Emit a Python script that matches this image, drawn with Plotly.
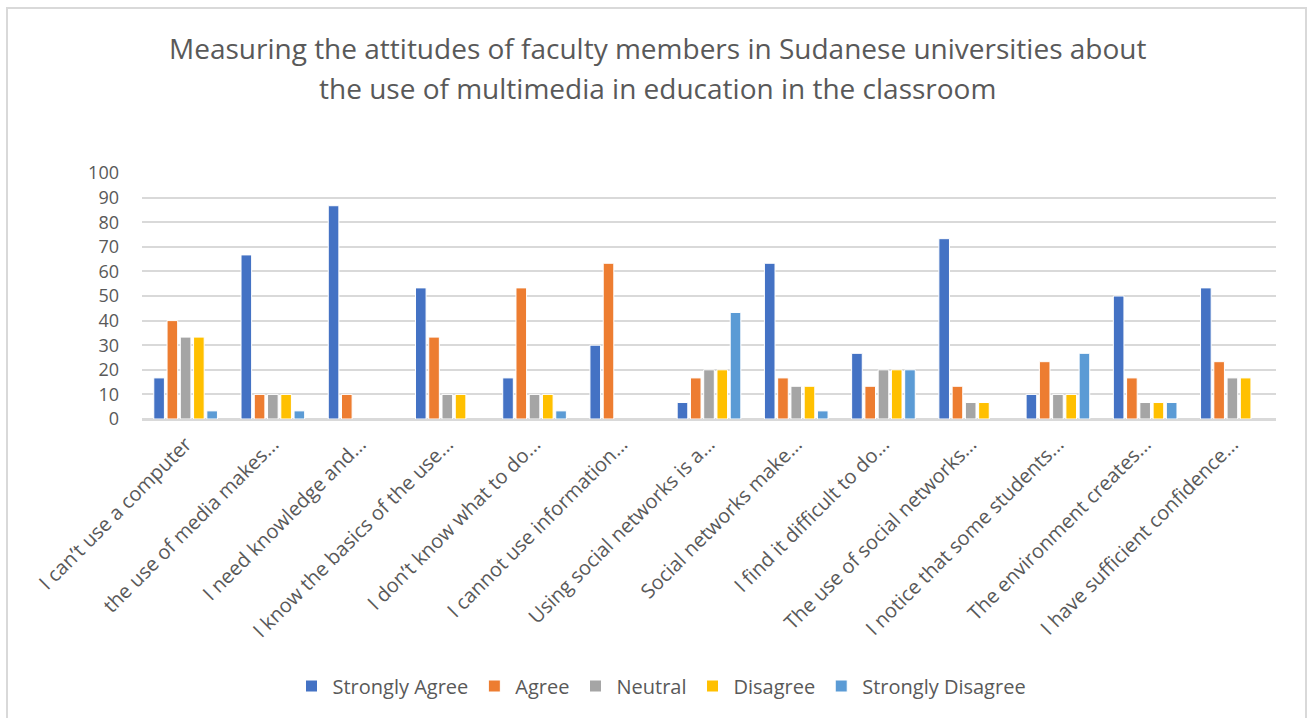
import plotly.graph_objects as go

categories = [
    "I can\u2019t use a computer",
    "the use of media makes...",
    "I need knowledge and...",
    "I know the basics of the use...",
    "I don\u2019t know what to do...",
    "I cannot use information...",
    "Using social networks is a...",
    "Social networks make...",
    "I find it difficult to do...",
    "The use of social networks...",
    "I notice that some students...",
    "The environment creates...",
    "I have sufficient confidence...",
]

strongly_agree = [16.7, 66.7, 86.7, 53.3, 16.7, 30.0, 6.7, 63.3, 26.7, 73.3, 10.0, 50.0, 53.3]
agree = [40.0, 10.0, 10.0, 33.3, 53.3, 63.3, 16.7, 16.7, 13.3, 13.3, 23.3, 16.7, 23.3]
neutral = [33.3, 10.0, 0, 10.0, 10.0, 0, 20.0, 13.3, 20.0, 6.7, 10.0, 6.7, 16.7]
disagree = [33.3, 10.0, 0, 10.0, 10.0, 0, 20.0, 13.3, 20.0, 6.7, 10.0, 6.7, 16.7]
strongly_disagree = [3.3, 3.3, 0, 0, 3.3, 0, 43.3, 3.3, 20.0, 0, 26.7, 6.7, 0]

series = [
    ("Strongly Agree", strongly_agree, "#4472C4"),
    ("Agree", agree, "#ED7D31"),
    ("Neutral", neutral, "#A5A5A5"),
    ("Disagree", disagree, "#FFC000"),
    ("Strongly Disagree", strongly_disagree, "#5B9BD5"),
]

y_ticks = list(range(0, 101, 10))

FONT = "Open Sans"
TEXT = "#595959"

fig = go.Figure()
for name, vals, color in series:
    # thin white outline on each bar, none on empty (zero) bars
    widths = [1 if v > 0 else 0 for v in vals]
    fig.add_trace(go.Bar(
        name=name, x=categories, y=vals,
        marker=dict(color=color, line=dict(color="white", width=widths)),
    ))

W, H = 1312, 718
L, R, T, B = 142, 36, 173, 299
pw, ph = W - L - R, H - T - B

def px_x(x):
    return (x - L) / pw

def px_y(y):
    return (H - B - y) / ph

fig.update_layout(
    width=W, height=H,
    margin=dict(l=L, r=R, t=T, b=B, autoexpand=False),
    paper_bgcolor="white", plot_bgcolor="white",
    barmode="group", bargap=0.24, bargroupgap=0.2,
    font=dict(family=FONT, color=TEXT),
    showlegend=True,
    legend=dict(
        orientation="h", x=px_x(661), xanchor="center",
        y=px_y(686), yanchor="middle",
        font=dict(size=20, color=TEXT, family=FONT),
        itemwidth=32, tracegroupgap=0,
    ),
    xaxis=dict(
        tickangle=-45, tickfont=dict(size=20, color=TEXT, family=FONT),
        showgrid=False, showline=True, linecolor="#d9d9d9", linewidth=1.5,
        ticks="", ticklabelstandoff=4,
    ),
    yaxis=dict(
        range=[0, 100], tickvals=y_ticks, ticktext=[str(v) for v in y_ticks],
        tickfont=dict(size=18, color=TEXT, family=FONT),
        showgrid=True, gridcolor="#d9d9d9", gridwidth=1.5,
        zeroline=True, zerolinecolor="#d9d9d9", zerolinewidth=1.5,
        showline=False, ticks="", ticklabelstandoff=22,
    ),
    annotations=[
        dict(text="Measuring the attitudes of faculty members in Sudanese universities about",
             x=px_x(657), y=px_y(48), xref="paper", yref="paper",
             xanchor="center", yanchor="middle", showarrow=False,
             font=dict(size=28, color=TEXT, family=FONT)),
        dict(text="the use of multimedia in education in the classroom",
             x=px_x(657), y=px_y(88), xref="paper", yref="paper",
             xanchor="center", yanchor="middle", showarrow=False,
             font=dict(size=28, color=TEXT, family=FONT)),
    ],
    shapes=[
        dict(type="rect", xref="paper", yref="paper",
             x0=px_x(7), x1=px_x(1306), y0=px_y(730), y1=px_y(8),
             line=dict(color="#d9d9d9", width=2), fillcolor="rgba(0,0,0,0)",
             layer="below"),
    ],
)

fig.write_html("out.html")
